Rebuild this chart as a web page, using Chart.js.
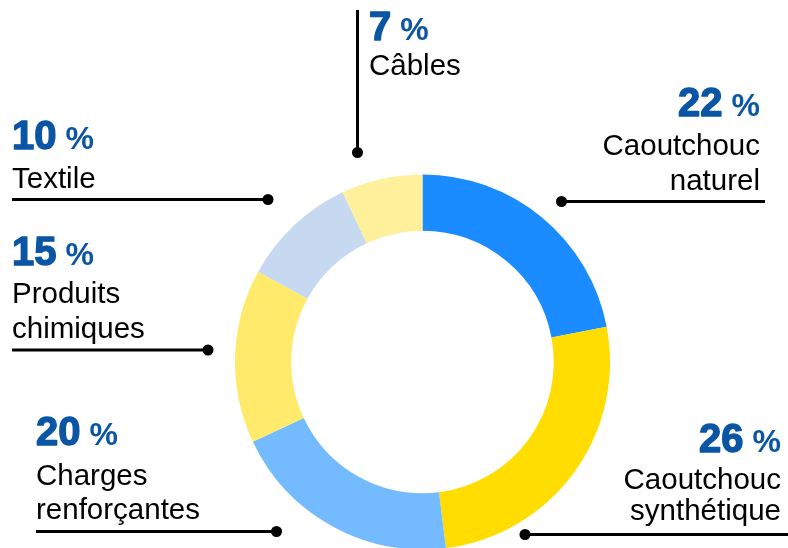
<!DOCTYPE html>
<html>
<head>
<meta charset="utf-8">
<script src="https://cdn.jsdelivr.net/npm/chart.js@4.4.1/dist/chart.umd.min.js"></script>
<style>
  html, body { margin: 0; padding: 0; background: #fff; overflow: hidden; }
  #wrap { position: absolute; left: 0; top: 0; width: 788px; height: 560px; }
</style>
</head>
<body>
<div id="wrap"><canvas id="donut" width="788" height="560"></canvas></div>
<script>
// data
const categories = ['Caoutchouc\nnaturel', 'Caoutchouc\nsynthétique', 'Charges\nrenforçantes', 'Produits\nchimiques', 'Textile', 'Câbles'];
const shares = [22, 26, 20, 15, 10, 7];
const sliceColors = ['#1a8cff', '#ffdd00', '#74baff', '#ffea6b', '#c6d9f1', '#fff09c'];

// callout placement (annotation layout only)
const callouts = [
  { align: 'right', x: 760, pctY: 116, lineY: [155, 190], rule: [561.5, 201.5, 765, 201.5] },
  { align: 'right', x: 781, pctY: 452, lineY: [489, 520], rule: [525, 534.5, 790, 534.5] },
  { align: 'left', x: 36, pctY: 445, lineY: [485, 519], rule: [276.5, 531.5, 36, 531.5] },
  { align: 'left', x: 12, pctY: 265, lineY: [302.5, 338], rule: [208, 350, 12, 350] },
  { align: 'left', x: 12, pctY: 149, lineY: [187.5], rule: [268, 199.5, 12, 199.5] },
  { align: 'left', x: 369, pctY: 40, lineY: [75], rule: [357.5, 152.5, 357.5, 10] }
];

const numFont = 'bold 40px "Liberation Sans", Arial, sans-serif';
const pctFont = 'bold 32px "Liberation Sans", Arial, sans-serif';
const labelFont = '29.5px "Liberation Sans", Arial, sans-serif';

const calloutPlugin = {
  id: 'callouts',
  afterDraw(chart) {
    const ctx = chart.ctx;
    ctx.save();
    callouts.forEach((c, i) => {
      // leader line + dot
      ctx.strokeStyle = '#000';
      ctx.lineWidth = 3;
      ctx.beginPath();
      ctx.moveTo(c.rule[0], c.rule[1]);
      ctx.lineTo(c.rule[2], c.rule[3]);
      ctx.stroke();
      ctx.fillStyle = '#000';
      ctx.beginPath();
      ctx.arc(c.rule[0], c.rule[1], 5.5, 0, Math.PI * 2);
      ctx.fill();

      // percentage
      const num = String(shares[i]);
      ctx.textBaseline = 'alphabetic';
      ctx.font = numFont;
      const numW = ctx.measureText(num).width;
      ctx.font = pctFont;
      const pctW = ctx.measureText('%').width;
      const gap = 9;
      let startX = c.align === 'right' ? c.x - pctW - gap - numW : c.x;
      ctx.textAlign = 'left';
      ctx.fillStyle = '#0b55a5';
      ctx.strokeStyle = '#0b55a5';
      ctx.lineWidth = 1.4;
      ctx.lineJoin = 'round';
      ctx.font = numFont;
      ctx.fillText(num, startX, c.pctY);
      ctx.strokeText(num, startX, c.pctY);
      ctx.font = pctFont;
      ctx.fillText('%', startX + numW + gap, c.pctY);

      // category text
      ctx.fillStyle = '#000';
      ctx.font = labelFont;
      ctx.textAlign = c.align;
      categories[i].split('\n').forEach((line, k) => {
        ctx.fillText(line, c.x, c.lineY[k]);
      });
    });
    ctx.restore();
  }
};

new Chart(document.getElementById('donut'), {
  type: 'doughnut',
  data: {
    labels: categories.map(c => c.replace('\n', ' ')),
    datasets: [{
      data: shares,
      backgroundColor: sliceColors,
      borderWidth: 0,
      hoverOffset: 0
    }]
  },
  options: {
    responsive: false,
    animation: false,
    devicePixelRatio: 1,
    cutout: '70%',
    layout: {
      padding: { left: 235, right: 178, top: 174.5, bottom: 10.5 }
    },
    plugins: {
      legend: { display: false },
      tooltip: { enabled: false }
    }
  },
  plugins: [calloutPlugin]
});
</script>
</body>
</html>
